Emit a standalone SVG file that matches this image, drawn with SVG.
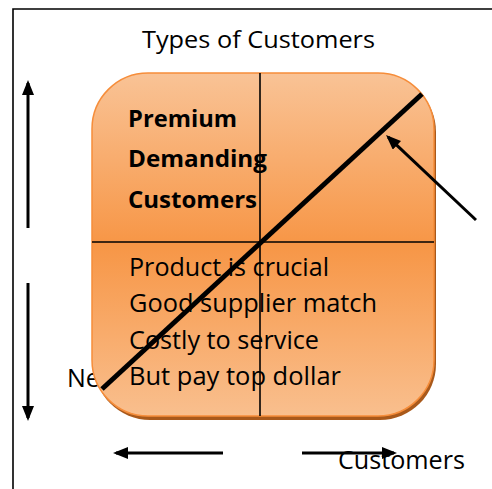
<svg xmlns="http://www.w3.org/2000/svg" width="492" height="489" viewBox="0 0 492 489">
  <style>
    .lbl { font-family: "Open Sans", "Liberation Sans", sans-serif; fill: #000; }
    .big { font-size: 25px; }
    .head { font-size: 23px; font-weight: bold; }
    .title { font-size: 23px; }
    .axis { stroke: #000; stroke-width: 3; fill: none; }
    .grid { stroke: #000; stroke-width: 1.6; }
  </style>
  <defs>
    <linearGradient id="orangeFill" x1="0" y1="0" x2="0" y2="1">
      <stop offset="0" stop-color="#f9c396"/>
      <stop offset="0.5" stop-color="#f79646"/>
      <stop offset="1" stop-color="#f9bf8e"/>
    </linearGradient>
    <marker id="head" viewBox="0 0 5 4" markerWidth="5" markerHeight="4" refX="4" refY="2" orient="auto" markerUnits="strokeWidth">
      <path d="M0,0 L5,2 L0,4 z" fill="#000"/>
    </marker>
  </defs>

  <!-- page frame -->
  <path d="M13,489 L13,9 L492,9" fill="none" stroke="#000" stroke-width="1.6"/>

  <text class="lbl title" x="142" y="48" textLength="233" lengthAdjust="spacingAndGlyphs">Types of Customers</text>
  <text class="lbl big" x="67" y="387">Ne</text>

  <!-- quadrant panel -->
  <g id="panel">
    <rect x="94" y="76" width="342" height="344" rx="56" ry="56" fill="#a9591b"/>
    <rect x="92" y="73" width="342" height="343" rx="56" ry="56" fill="url(#orangeFill)" stroke="#f68d3a" stroke-width="1.5"/>
    <line class="grid" x1="260" y1="73" x2="260" y2="416"/>
    <line class="grid" x1="92" y1="242" x2="434" y2="242"/>
  </g>

  <g id="quadrant-top-left">
    <text class="lbl head" x="128" y="127" textLength="109" lengthAdjust="spacingAndGlyphs">Premium</text>
    <text class="lbl head" x="128" y="167" textLength="139" lengthAdjust="spacingAndGlyphs">Demanding</text>
    <text class="lbl head" x="128" y="208" textLength="129" lengthAdjust="spacingAndGlyphs">Customers</text>
  </g>

  <g id="quadrant-bottom-left">
    <text class="lbl big" x="129" y="276" textLength="200" lengthAdjust="spacingAndGlyphs">Product is crucial</text>
    <text class="lbl big" x="129" y="312" textLength="248" lengthAdjust="spacingAndGlyphs">Good supplier match</text>
    <text class="lbl big" x="129" y="349" textLength="190" lengthAdjust="spacingAndGlyphs">Costly to service</text>
    <text class="lbl big" x="129" y="385" textLength="212" lengthAdjust="spacingAndGlyphs">But pay top dollar</text>
  </g>

  <!-- connectors -->
  <g id="connectors">
    <line x1="102" y1="389" x2="422" y2="94" stroke="#000" stroke-width="5"/>
    <line class="axis" x1="476" y1="220" x2="388.2" y2="137.1" marker-end="url(#head)"/>
    <line class="axis" x1="28" y1="228" x2="28" y2="83" marker-end="url(#head)"/>
    <line class="axis" x1="28" y1="283" x2="28" y2="418" marker-end="url(#head)"/>
    <line class="axis" x1="223" y1="453" x2="116" y2="453" marker-end="url(#head)"/>
    <line class="axis" x1="302" y1="453" x2="394" y2="453" marker-end="url(#head)"/>
  </g>

  <text class="lbl big" x="338" y="469" textLength="127" lengthAdjust="spacingAndGlyphs">Customers</text>
</svg>
